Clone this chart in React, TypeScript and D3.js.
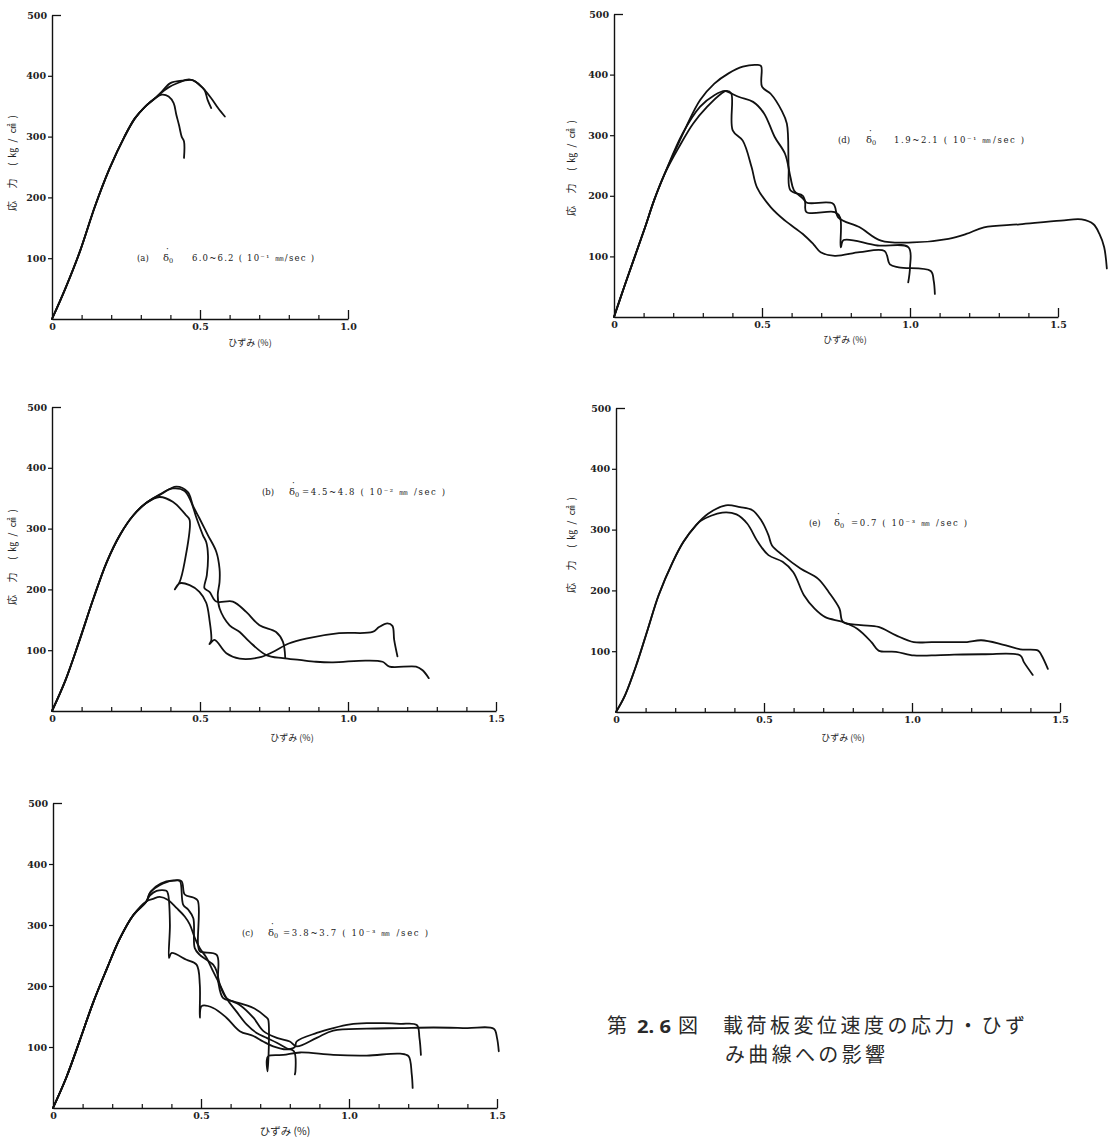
import React, { useEffect, useRef } from 'react';
import * as d3 from 'd3';

type Pt = [number, number];

// strain (%) , stress (kg/cm2)

// (a) 6.0~6.2
const riseA: Pt[] = [[0, 0], [0.045, 50], [0.095, 112], [0.145, 185], [0.195, 248], [0.245, 300], [0.28, 330], [0.314, 349], [0.348, 363]];
const tailA1: Pt[] = [[0.371, 369], [0.394, 366], [0.411, 355], [0.42, 336], [0.429, 319], [0.438, 300], [0.446, 292], [0.446, 265]];
const tailA2: Pt[] = [[0.371, 374], [0.40, 388], [0.44, 392], [0.475, 393], [0.498, 385], [0.515, 377], [0.526, 360], [0.538, 347]];
const tailA3: Pt[] = [[0.366, 371], [0.394, 381], [0.429, 389], [0.463, 394], [0.486, 390], [0.509, 380], [0.538, 363], [0.561, 347], [0.584, 333]];

// (d) 1.9~2.1
const riseD: Pt[] = [[0, 0], [0.034, 49], [0.069, 98], [0.105, 148], [0.135, 192], [0.171, 236]];
const tailD1: Pt[] = [[0.207, 275], [0.243, 313], [0.291, 358], [0.339, 385], [0.387, 402], [0.435, 413], [0.483, 416], [0.497, 414], [0.50, 380], [0.53, 368], [0.566, 341], [0.584, 319], [0.59, 247], [0.596, 209], [0.638, 200], [0.65, 189], [0.74, 187], [0.758, 164], [0.83, 148], [0.902, 126], [1.01, 123], [1.13, 129], [1.19, 137], [1.25, 148], [1.37, 153], [1.51, 159], [1.58, 161], [1.62, 153], [1.64, 137], [1.656, 115], [1.665, 80]];
const tailD2: Pt[] = [[0.219, 280], [0.267, 319], [0.315, 347], [0.363, 369], [0.381, 373], [0.396, 369], [0.401, 308], [0.435, 291], [0.465, 247], [0.483, 214], [0.53, 181], [0.578, 159], [0.638, 137], [0.674, 120], [0.698, 107], [0.746, 101], [0.83, 107], [0.914, 109], [0.932, 87], [0.962, 82], [1.07, 76], [1.08, 60], [1.084, 38]];
const tailD3: Pt[] = [[0.231, 302], [0.291, 347], [0.339, 366], [0.375, 373], [0.387, 371], [0.423, 363], [0.47, 355], [0.507, 336], [0.543, 297], [0.578, 269], [0.596, 231], [0.608, 209], [0.644, 192], [0.65, 173], [0.746, 173], [0.764, 164], [0.766, 115], [0.776, 127], [0.89, 118], [0.995, 115], [1.0, 82], [0.994, 57]];

// (b) 4.5~4.8
const riseB: Pt[] = [[0, 0], [0.045, 50], [0.09, 112], [0.14, 185], [0.185, 245], [0.23, 290], [0.275, 322], [0.318, 342]];
const tailB1: Pt[] = [[0.363, 352], [0.408, 344], [0.453, 322], [0.465, 314], [0.448, 245], [0.431, 212], [0.415, 200], [0.431, 210], [0.465, 207], [0.498, 196], [0.521, 178], [0.532, 150], [0.538, 116], [0.532, 110], [0.549, 117], [0.589, 95], [0.634, 86], [0.70, 88], [0.746, 97], [0.80, 111], [0.858, 119], [0.97, 128], [1.083, 130], [1.105, 138], [1.133, 144], [1.15, 140], [1.156, 117], [1.167, 90]];
const tailB2: Pt[] = [[0.363, 356], [0.408, 366], [0.448, 362], [0.47, 344], [0.487, 319], [0.51, 289], [0.521, 278], [0.527, 256], [0.523, 223], [0.515, 202], [0.532, 196], [0.555, 180], [0.611, 180], [0.656, 163], [0.701, 141], [0.757, 130], [0.78, 114], [0.788, 87]];
const tailB3: Pt[] = [[0.363, 355], [0.42, 369], [0.459, 360], [0.476, 338], [0.498, 317], [0.527, 289], [0.555, 262], [0.566, 234], [0.566, 212], [0.56, 191], [0.566, 169], [0.6, 141], [0.634, 130], [0.667, 114], [0.724, 92], [0.78, 87], [0.836, 84], [0.892, 81], [0.949, 80], [1.06, 83], [1.117, 81], [1.14, 73], [1.23, 73], [1.252, 67], [1.273, 54]];

// (e) 0.7
const riseE: Pt[] = [[0, 0], [0.03, 27], [0.072, 82], [0.108, 137], [0.144, 192], [0.192, 247], [0.228, 280], [0.27, 307]];
const tailE1: Pt[] = [[0.311, 326], [0.371, 340], [0.419, 337], [0.461, 332], [0.491, 315], [0.515, 291], [0.527, 274], [0.563, 258], [0.623, 236], [0.683, 219], [0.719, 197], [0.755, 170], [0.767, 148], [0.827, 143], [0.887, 140], [0.946, 126], [1.006, 115], [1.066, 115], [1.126, 115], [1.186, 115], [1.234, 118], [1.306, 111], [1.366, 103], [1.426, 101], [1.438, 93], [1.459, 71]];
const tailE2: Pt[] = [[0.288, 315], [0.359, 328], [0.407, 325], [0.443, 310], [0.479, 280], [0.515, 258], [0.563, 247], [0.599, 230], [0.635, 192], [0.671, 170], [0.707, 156], [0.767, 148], [0.815, 137], [0.863, 115], [0.887, 101], [0.946, 99], [1.006, 93], [1.066, 93], [1.126, 94], [1.246, 95], [1.366, 93], [1.378, 82], [1.408, 61]];

// (c) 3.8~3.7
const riseC: Pt[] = [[0, 0], [0.045, 50], [0.09, 110], [0.135, 172], [0.18, 226], [0.226, 278], [0.271, 316], [0.316, 339]];
const tailC1: Pt[] = [[0.33, 355], [0.364, 368], [0.406, 373], [0.434, 372], [0.445, 350], [0.474, 345], [0.489, 340], [0.49, 268], [0.496, 257], [0.553, 251], [0.558, 208], [0.575, 180], [0.609, 175], [0.677, 164], [0.722, 148], [0.727, 145], [0.725, 60], [0.722, 77], [0.727, 85], [0.778, 87], [0.835, 91], [0.947, 87], [1.06, 86], [1.173, 89], [1.201, 85], [1.212, 55], [1.215, 33]];
const tailC2: Pt[] = [[0.327, 352], [0.372, 368], [0.417, 373], [0.429, 372], [0.44, 333], [0.457, 325], [0.474, 311], [0.479, 262], [0.496, 251], [0.541, 235], [0.553, 224], [0.564, 202], [0.586, 180], [0.631, 169], [0.677, 148], [0.711, 126], [0.756, 115], [0.8, 109], [0.823, 101], [0.891, 115], [0.947, 127], [1.06, 130], [1.173, 131], [1.286, 132], [1.398, 131], [1.489, 130], [1.5, 115], [1.506, 93]];
const tailC3: Pt[] = [[0.327, 348], [0.35, 356], [0.383, 356], [0.389, 350], [0.395, 301], [0.392, 246], [0.40, 254], [0.451, 243], [0.485, 235], [0.496, 202], [0.496, 148], [0.502, 167], [0.541, 164], [0.586, 148], [0.631, 126], [0.677, 118], [0.71, 109], [0.744, 101], [0.789, 96], [0.817, 100], [0.823, 109], [0.891, 123], [0.947, 131], [1.004, 137], [1.06, 139], [1.117, 139], [1.173, 138], [1.229, 136], [1.238, 115], [1.243, 87]];
const tailC4: Pt[] = [[0.338, 343], [0.361, 346], [0.389, 341], [0.417, 328], [0.445, 314], [0.462, 301], [0.479, 279], [0.496, 262], [0.519, 246], [0.541, 224], [0.564, 202], [0.586, 180], [0.62, 158], [0.654, 137], [0.688, 123], [0.722, 115], [0.756, 107], [0.789, 98], [0.814, 93], [0.819, 60], [0.817, 55]];

const yTicks = [100, 200, 300, 400];
const panelTags = ['(a)', '(d)', '(b)', '(e)', '(c)'];
const rateTexts = [
  '6.0~6.2 ( 10⁻¹ ㎜/sec )',
  '1.9~2.1 ( 10⁻¹ ㎜/sec )',
  '=4.5~4.8 ( 10⁻² ㎜ /sec )',
  '=0.7 ( 10⁻³ ㎜ /sec )',
  '=3.8~3.7 ( 10⁻³ ㎜ /sec )',
];

const PX = 296; // px per 1 % strain

const panels = [
  { ox: 52, oy: 319, top: 15, xMax: 1.0, curves: [riseA.concat(tailA1), riseA.concat(tailA2), riseA.concat(tailA3)],
    ann: { x: 137, dx: 26, rx: 192, len: 122, y: 261 }, yl: { x: 16, y: 163 }, xl: { x: 250, y: 346 }, xlSize: 9 },
  { ox: 614, oy: 317, top: 14, xMax: 1.5, curves: [riseD.concat(tailD1), riseD.concat(tailD2), riseD.concat(tailD3)],
    ann: { x: 838, dx: 28, rx: 894, len: 130, y: 143 }, yl: { x: 575, y: 168 }, xl: { x: 845, y: 343 }, xlSize: 9 },
  { ox: 52, oy: 711, top: 407, xMax: 1.5, curves: [riseB.concat(tailB1), riseB.concat(tailB2), riseB.concat(tailB3)],
    ann: { x: 262, dx: 27, rx: 302, len: 143, y: 495 }, yl: { x: 16, y: 557 }, xl: { x: 292, y: 741 }, xlSize: 9 },
  { ox: 616, oy: 712, top: 408, xMax: 1.5, curves: [riseE.concat(tailE1), riseE.concat(tailE2)],
    ann: { x: 809, dx: 25, rx: 851, len: 116, y: 526 }, yl: { x: 575, y: 545 }, xl: { x: 843, y: 741 }, xlSize: 9 },
  { ox: 53, oy: 1108, top: 803, xMax: 1.5, curves: [riseC.concat(tailC1), riseC.concat(tailC2), riseC.concat(tailC3), riseC.concat(tailC4)],
    ann: { x: 242, dx: 26, rx: 283, len: 145, y: 936 }, yl: null, xl: { x: 285, y: 1135 }, xlSize: 10.5 },
];

const serif = '"DejaVu Serif", "Liberation Serif", serif';
const jp = '"Noto Sans CJK JP", "Noto Sans", sans-serif';

export default function App() {
  const svgRef = useRef<SVGSVGElement>(null);

  useEffect(() => {
    const svg = d3.select(svgRef.current);
    svg.selectAll('*').remove();

    panels.forEach((p, i) => {
      const x = d3.scaleLinear().domain([0, p.xMax]).range([p.ox, p.ox + p.xMax * PX]);
      const y = d3.scaleLinear().domain([0, 500]).range([p.oy, p.top]);
      const g = svg.append('g');

      // minor ticks on x
      const minor = d3.range(1, Math.round(p.xMax * 10) + 1).map((k) => k / 10).filter((v) => Math.abs(v * 2 - Math.round(v * 2)) > 1e-6);
      const gm = g.append('g').attr('transform', `translate(0,${p.oy})`)
        .call(d3.axisBottom(x).tickValues(minor).tickSizeInner(-4).tickSizeOuter(0).tickFormat(() => ''));
      gm.selectAll('line').attr('stroke', '#111').attr('stroke-width', 1.2);
      gm.select('.domain').attr('stroke', '#111').attr('stroke-width', 1.4);

      const majors = d3.range(0, Math.round(p.xMax * 2) + 1).map((k) => k / 2);
      const gM = g.append('g').attr('transform', `translate(0,${p.oy})`)
        .call(d3.axisBottom(x).tickValues(majors).tickSizeInner(-9).tickSizeOuter(0).tickPadding(4)
          .tickFormat((d) => (+d === 0 ? '0' : d3.format('.1f')(+d))));
      gM.select('.domain').remove();
      gM.selectAll('line').attr('stroke', '#111').attr('stroke-width', 1.3).filter((d) => +d === 0).remove();
      gM.selectAll('text').attr('font-family', serif).attr('font-size', 9.5).attr('font-weight', 'bold').attr('fill', '#222');

      // y axis
      const gy = g.append('g').attr('transform', `translate(${p.ox},0)`)
        .call(d3.axisLeft(y).tickValues(yTicks).tickSizeInner(4).tickSizeOuter(0).tickPadding(2));
      gy.select('.domain').attr('stroke', '#111').attr('stroke-width', 1.4);
      gy.selectAll('line').attr('stroke', '#111').attr('stroke-width', 1.2);
      gy.selectAll('text').attr('font-family', serif).attr('font-size', 9.5).attr('font-weight', 'bold').attr('fill', '#222');

      const gt = g.append('g').attr('transform', `translate(${p.ox},0)`)
        .call(d3.axisLeft(y).tickValues([500]).tickSizeInner(-9).tickSizeOuter(0).tickPadding(5));
      gt.select('.domain').remove();
      gt.selectAll('line').attr('stroke', '#111').attr('stroke-width', 1.3);
      gt.selectAll('text').attr('font-family', serif).attr('font-size', 9.5).attr('font-weight', 'bold').attr('fill', '#222');

      // curves
      const line = d3.line<Pt>().x((d) => x(d[0])).y((d) => y(d[1])).curve(d3.curveCatmullRom.alpha(0.5));
      g.append('g').selectAll('path').data(p.curves).enter().append('path')
        .attr('d', (d) => line(d) as string)
        .attr('fill', 'none').attr('stroke', '#111').attr('stroke-width', 1.8)
        .attr('stroke-linejoin', 'round').attr('stroke-linecap', 'round');

      // annotation
      const a = p.ann;
      g.append('text').attr('x', a.x).attr('y', a.y).attr('font-family', serif).attr('font-size', 8.5).attr('fill', '#222').text(panelTags[i]);
      const dl = g.append('text').attr('x', a.x + a.dx).attr('y', a.y).attr('font-family', serif).attr('font-size', 10).attr('fill', '#222');
      dl.append('tspan').text('δ');
      dl.append('tspan').attr('font-size', 6.5).attr('dy', 2).text('0');
      g.append('text').attr('x', a.x + a.dx + 3).attr('y', a.y - 9).attr('font-family', serif).attr('font-size', 9).attr('fill', '#222').text('·');
      g.append('text').attr('x', a.rx).attr('y', a.y).attr('font-family', serif).attr('font-size', 8.5).attr('fill', '#222')
        .attr('textLength', a.len).attr('lengthAdjust', 'spacing').text(rateTexts[i]);

      // axis labels
      g.append('text').attr('x', p.xl.x).attr('y', p.xl.y).attr('text-anchor', 'middle')
        .attr('font-family', jp).attr('font-size', p.xlSize).attr('fill', '#222').text('ひずみ (%)');
      if (p.yl) {
        g.append('text').attr('transform', `translate(${p.yl.x},${p.yl.y}) rotate(-90)`)
          .attr('text-anchor', 'middle').attr('font-family', jp).attr('font-size', 10).attr('fill', '#222')
          .attr('textLength', 96).attr('lengthAdjust', 'spacing').text('応 力 (㎏/㎠)');
      }
    });

    // caption
    const cap = svg.append('g').attr('fill', '#2a2a2a');
    cap.append('text').attr('x', 607).attr('y', 1033).attr('font-family', jp).attr('font-size', 20).text('第');
    cap.append('text').attr('x', 637).attr('y', 1033).attr('font-family', '"Noto Sans", sans-serif').attr('font-weight', 'bold').attr('font-size', 18)
      .attr('textLength', 34).attr('lengthAdjust', 'spacingAndGlyphs').text('2. 6');
    cap.append('text').attr('x', 678).attr('y', 1033).attr('font-family', jp).attr('font-size', 20).text('図');
    cap.append('text').attr('x', 723).attr('y', 1033).attr('font-family', jp).attr('font-size', 20)
      .attr('textLength', 302).attr('lengthAdjust', 'spacing').text('載荷板変位速度の応力・ひず');
    cap.append('text').attr('x', 725).attr('y', 1062).attr('font-family', jp).attr('font-size', 20)
      .attr('textLength', 160).attr('lengthAdjust', 'spacing').text('み曲線への影響');
  }, []);

  return (
    <svg ref={svgRef} width={1112} height={1137} style={{ position: 'absolute', left: 0, top: 0, background: '#fff' }} />
  );
}
